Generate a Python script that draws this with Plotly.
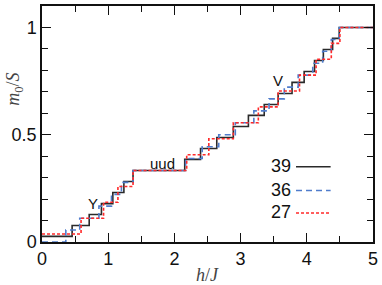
import plotly.graph_objects as go

# N = 39 cluster
h39 = [0.455, 0.713, 0.898, 1.07, 1.237, 1.375, 2.156, 2.395, 2.64, 2.89, 3.118,
       3.357, 3.567, 3.777, 3.96, 4.117, 4.25, 4.39, 4.49]
m39 = [0.026, 0.077, 0.128, 0.179, 0.231, 0.282, 0.333, 0.385, 0.436, 0.487, 0.538,
       0.590, 0.641, 0.692, 0.744, 0.795, 0.846, 0.897, 0.949, 1.0]
# N = 36 cluster
h36 = [0.36, 0.57, 0.86, 1.05, 1.2, 1.375, 2.17, 2.42, 2.67, 2.92, 3.2, 3.43,
       3.66, 3.87, 4.09, 4.24, 4.37, 4.49]
m36 = [0.0, 0.056, 0.111, 0.167, 0.222, 0.278, 0.333, 0.389, 0.444, 0.5, 0.556,
       0.611, 0.667, 0.722, 0.778, 0.833, 0.889, 0.944, 1.0]
# N = 27 cluster
h27 = [0.59, 0.93, 1.147, 1.375, 2.186, 2.52, 2.89, 3.268, 3.567, 3.89, 4.14, 4.37, 4.5]
m27 = [0.037, 0.111, 0.185, 0.259, 0.333, 0.407, 0.481, 0.556, 0.630, 0.704, 0.778,
       0.852, 0.926, 1.0]

series_names = ["39", "36", "27"]
series_colors = ["#2a2a2a", "#4f7ccc", "#ff2a2a"]
series_dash = ["solid", "6px,4px", "3px,2px"]
h_min, h_max = 0.0, 5.0

x_ticks = [0, 1, 2, 3, 4, 5]
y_ticks = [0, 0.5, 1]
y_tick_labels = ["0", "0.5", "1"]

labels = [("Y", 0.775, 0.178), ("uud", 1.823, 0.365), ("V", 3.567, 0.755)]

fig = go.Figure()
for name, hs, ms, col, dash in zip(series_names, [h39, h36, h27], [m39, m36, m27],
                                   series_colors, series_dash):
    xs = [h_min] + hs + [h_max]
    ys = ms + [ms[-1]]
    fig.add_trace(go.Scatter(x=xs, y=ys, mode="lines", name=name,
                             line=dict(shape="hv", color=col, dash=dash, width=1.6),
                             showlegend=False, cliponaxis=False))

# legend (text left of line sample)
leg_y = [0.354, 0.243, 0.138]
for name, col, dash, yy in zip(series_names, series_colors, series_dash, leg_y):
    fig.add_annotation(x=3.79, y=yy, xref="x", yref="y", text=name, showarrow=False,
                       xanchor="right", yanchor="middle",
                       font=dict(family="Liberation Sans", size=18, color="#111"))
    fig.add_shape(type="line", xref="x", yref="y", x0=3.837, x1=4.36, y0=yy - 0.003,
                  y1=yy - 0.003, line=dict(color=col, dash=dash, width=1.6))

for txt, hx, my in labels:
    fig.add_annotation(x=hx, y=my, xref="x", yref="y", text=txt, showarrow=False,
                       xanchor="center", yanchor="middle",
                       font=dict(family="Liberation Sans", size=15, color="#111"))

fig.add_annotation(x=0.5, y=-0.139, xref="paper", yref="paper",
                   text="<i>h</i>/<i>J</i>", showarrow=False, xanchor="center",
                   yanchor="middle",
                   font=dict(family="Liberation Serif", size=18, color="#444"))
fig.add_annotation(x=-0.083, y=0.647, xref="paper", yref="paper",
                   text="<i>m</i><sub>0</sub>/<i>S</i>", showarrow=False, textangle=-90,
                   xanchor="center", yanchor="middle",
                   font=dict(family="Liberation Serif", size=18, color="#444"))

axis_common = dict(showgrid=False, zeroline=False, showline=True, linecolor="#111",
                   linewidth=1.5, mirror="ticks", ticks="inside", ticklen=9,
                   tickwidth=1.2, tickcolor="#111",
                   tickfont=dict(family="Liberation Sans", size=18, color="#111"))
fig.update_xaxes(range=[0, 5], tickvals=x_ticks,
                 minor=dict(dtick=0.5, ticks="inside", ticklen=6, tickwidth=1.2,
                            tickcolor="#111"), **axis_common)
fig.update_yaxes(range=[0, 1.1], tickvals=y_ticks, ticktext=y_tick_labels,
                 minor=dict(dtick=0.1, tick0=0, ticks="inside", ticklen=6, tickwidth=1.2,
                            tickcolor="#111"), **axis_common)

fig.update_layout(width=382, height=285, margin=dict(l=42, r=6, t=4, b=43),
                  paper_bgcolor="white", plot_bgcolor="white")
fig.write_html("out.html", config={"displayModeBar": False},
               post_script="document.body.style.margin='0px';document.body.style.overflow='hidden';")
